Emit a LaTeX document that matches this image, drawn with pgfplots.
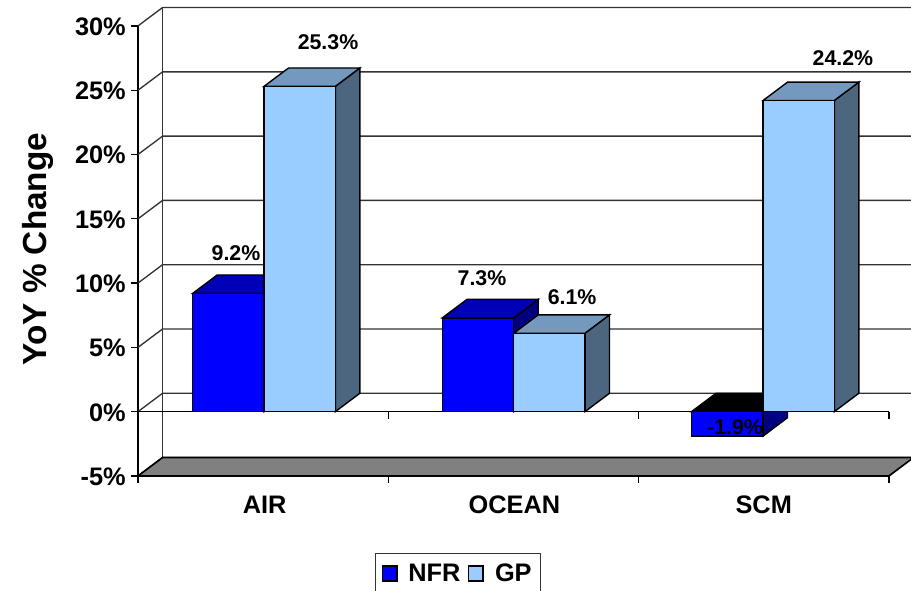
\documentclass[border=0pt]{standalone}
\usepackage{fontspec}
\setmainfont{Liberation Sans}
\usepackage{pgfplots}
\pgfplotsset{compat=1.18}

% Face colours of the two cuboid series
\definecolor{nfrFront}{HTML}{0000FF}
\definecolor{nfrTop}{HTML}{0000B8}
\definecolor{nfrSide}{HTML}{000080}
\definecolor{gpFront}{HTML}{99CCFF}
\definecolor{gpTop}{HTML}{7399BF}
\definecolor{gpSide}{HTML}{4D6680}
\definecolor{wallLine}{HTML}{333333}
\definecolor{floorFill}{HTML}{808080}

% Receding direction of the fake 3D view, in axis units
\def\dpx{0.098}
\def\dpy{1.43}

% One receding grid line of the back wall
\newcommand{\wallline}[1]{%
  \pgfmathsetmacro{\yb}{#1+\dpy}%
  \addplot[wallLine,line width=1pt,forget plot] coordinates {(0,#1) (\dpx,\yb) (3.2,\yb)};%
}

% Top and side faces of a bar: x0, x1, value, level of the top face, colours
\newcommand{\barfaces}[6]{%
  \pgfmathsetmacro{\xa}{#1+\dpx}%
  \pgfmathsetmacro{\xb}{#2+\dpx}%
  \pgfmathsetmacro{\ya}{#3+\dpy}%
  \pgfmathsetmacro{\yz}{#4+\dpy}%
  \addplot[fill=#6,draw=black,line width=1.05pt,forget plot]
    coordinates {(#2,0) (#2,#3) (\xb,\ya) (\xb,\dpy)} -- cycle;%
  \addplot[fill=#5,draw=black,line width=1.05pt,forget plot]
    coordinates {(#1,#4) (\xa,\yz) (\xb,\yz) (#2,#4)} -- cycle;%
}

\begin{document}
\begin{tikzpicture}
\path[use as bounding box] (0,0) rectangle (683.25pt,443.25pt);
\clip (0,0) rectangle (683.25pt,443.25pt);
\begin{axis}[
  at={(103.5pt,134.5pt)},anchor=origin,
  scale only axis,
  width=563.25pt,height=337.5pt,
  xmin=0,xmax=3,ymin=-5,ymax=30,
  clip=false,
  axis lines*=left,
  axis line style={black,line width=1.25pt},
  font=\bfseries,
  ytick={-5,0,5,10,15,20,25,30},
  yticklabels={-5\%,0\%,5\%,10\%,15\%,20\%,25\%,30\%},
  yticklabel style={font=\fontsize{19pt}{20pt}\bfseries\selectfont,anchor=east,inner sep=0pt,xshift=-3.75pt,yshift=-0.5pt},
  xtick={0.503,1.501,2.497},
  xticklabels={AIR,OCEAN,SCM},
  xticklabel style={font=\fontsize{19pt}{20pt}\bfseries\selectfont,anchor=center,inner sep=0pt,yshift=-16.5pt,xshift=0.5pt},
  minor xtick={0,1,2,3},
  tick style={black,line width=1pt},
  major tick length=5.25pt,
  minor tick length=5.25pt,
  x tick style={draw=none},
  minor x tick style={draw=black,line width=1pt},
  tick align=outside,
  ylabel={YoY \% Change},
  every axis y label/.style={at={(axis description cs:-0.1216,0.504)},anchor=base,rotate=90,
    font=\fontsize{25pt}{26pt}\bfseries\selectfont,inner sep=0pt},
  legend columns=2,
  legend style={
    at={(axis cs:0.9465,-10.97)},anchor=north west,
    draw=wallLine,line width=1pt,
    font=\fontsize{19pt}{20pt}\bfseries\selectfont,
    inner xsep=4.5pt,inner ysep=5.8pt,
    /tikz/column 1/.style={column sep=6pt},
    /tikz/column 2/.style={column sep=3.5pt},
    /tikz/column 3/.style={column sep=6.5pt},
  },
  legend image code/.code={\draw[#1,draw=black,line width=1pt] (0pt,-5.6pt) rectangle (11pt,5.6pt);},
]
% Side wall diagonals and back wall grid
\wallline{-5}\wallline{0}\wallline{5}\wallline{10}\wallline{15}\wallline{20}\wallline{25}\wallline{30}
\addplot[wallLine,line width=1pt,forget plot] coordinates {(0.098,-3.57) (0.098,31.43)};

% Floor
\addplot[fill=floorFill,draw=black,line width=1.25pt,forget plot]
  coordinates {(0,-5) (3,-5) (3.098,-3.57) (0.098,-3.57)} -- cycle;

% Zero line of the front plane with its ticks
\addplot[black,line width=1.25pt,forget plot] coordinates {(0,0) (3,0)};
\addplot[black,line width=1pt,forget plot] coordinates {(1,0) (1,-0.55)};
\addplot[black,line width=1pt,forget plot] coordinates {(2,0) (2,-0.55)};
\addplot[black,line width=1pt,forget plot] coordinates {(3,0) (3,-0.55)};

% Receding faces, left to right
\barfaces{0.2185}{0.5033}{9.2}{9.2}{nfrTop}{nfrSide}
\barfaces{0.5033}{0.7882}{25.3}{25.3}{gpTop}{gpSide}
\barfaces{1.2159}{1.5008}{7.3}{7.3}{nfrTop}{nfrSide}
\barfaces{1.5008}{1.7856}{6.1}{6.1}{gpTop}{gpSide}
\barfaces{2.2110}{2.4966}{-1.9}{0}{black}{nfrSide}
\barfaces{2.4966}{2.7815}{24.2}{24.2}{gpTop}{gpSide}

% Front faces of the two series
\addplot[ybar,bar width=53.5pt,bar shift=-26.75pt,fill=nfrFront,draw=black,line width=1.05pt]
  coordinates {(0.503,9.2) (1.501,7.3) (2.497,-1.9)};
\addlegendentry{NFR}
\addplot[ybar,bar width=53.5pt,bar shift=26.75pt,fill=gpFront,draw=black,line width=1.05pt]
  coordinates {(0.503,25.3) (1.501,6.1) (2.497,24.2)};
\addlegendentry{GP\hspace{4pt}}

% Value labels
\begin{scope}[every node/.style={font=\fontsize{16pt}{17pt}\bfseries\selectfont,inner sep=0pt,anchor=center}]
\node at (axis cs:0.759,28.7) {25.3\%};
\node at (axis cs:0.3915,12.34) {9.2\%};
\node at (axis cs:1.374,10.4) {7.3\%};
\node at (axis cs:1.734,8.87) {6.1\%};
\node at (axis cs:2.385,-1.17) {-1.9\%};
\node at (axis cs:2.816,27.5) {24.2\%};
\end{scope}
\end{axis}
\end{tikzpicture}
\end{document}
